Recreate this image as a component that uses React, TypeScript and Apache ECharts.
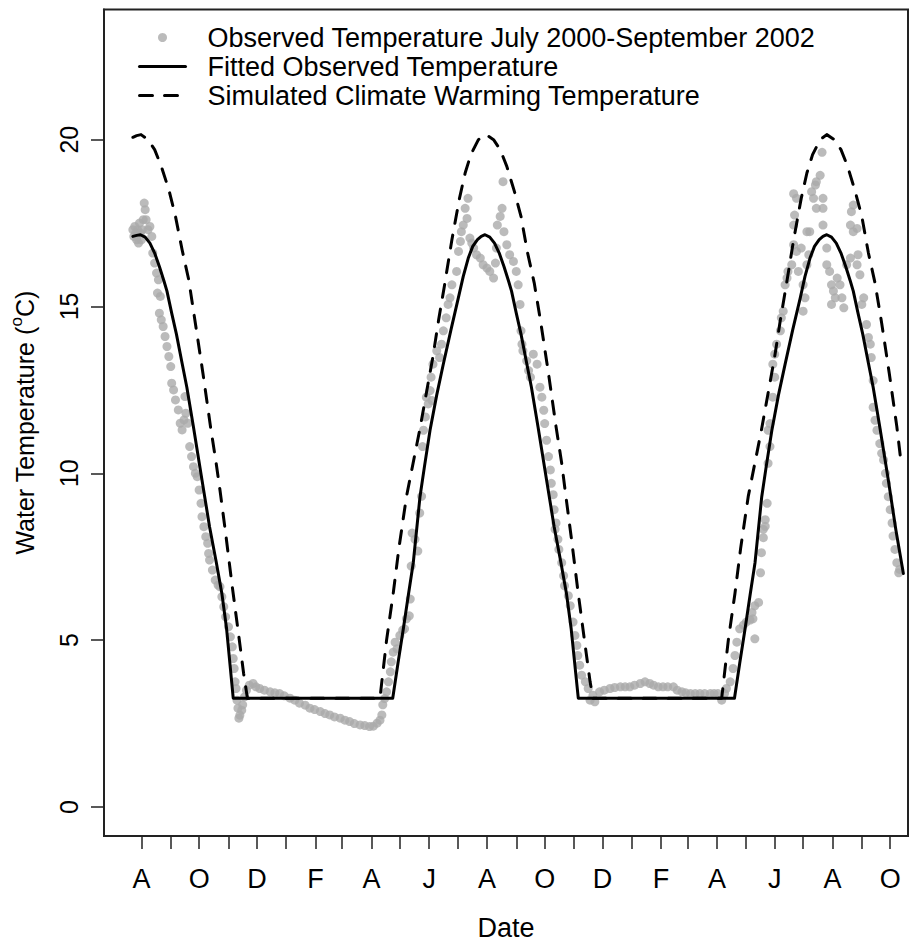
import React, { useEffect, useRef } from "react";
import * as echarts from "echarts";

// x values are days counted from 1 July 2000 (day 0)
const observedPoints: [number, number][] = [
  [22,17.3],[23,17.1],[24,17.4],[25,17.2],[26,17.0],[27,17.3],[28,16.9],[29,17.5],[30,17.2],[31,17.0],[32,17.3],[33,17.6],[34,18.1],[35,17.9],[36,17.6],[38,17.3],[40,17.4],[42,17.1],[43,16.6],[45,16.3],[47,16.0],[48,15.4],[49,15.8],[50,14.8],[51,15.3],[52,14.6],[54,14.4],[56,14.1],[58,13.8],[60,13.5],[62,13.2],[63,12.7],[65,12.5],[67,12.2],[70,11.9],[72,11.5],[74,11.3],[76,11.6],[77,12.3],[78,11.8],[80,11.5],[82,10.8],[84,10.5],[86,10.2],[88,10.0],[90,9.9],[92,9.5],[94,9.1],[95,8.7],[97,8.4],[99,8.1],[101,7.9],[102,7.6],[103,7.4],[106,7.1],[109,6.8],[112,6.65],[114,6.6],[116,6.3],[118,6.0],[120,5.7],[123,5.4],[125,5.1],[127,4.8],[128,4.45],[129,4.15],[130,3.75],[131,3.55],[132,3.2],[133,2.96],[134,2.66],[135,2.75],[137,2.9],[138,3.06],[140,3.3],[142,3.5],[145,3.65],[149,3.7],[152,3.6],[156,3.55],[161,3.5],[167,3.45],[172,3.42],[177,3.4],[182,3.33],[188,3.26],[193,3.2],[198,3.11],[204,3.05],[209,2.96],[214,2.92],[220,2.86],[225,2.8],[230,2.76],[235,2.7],[241,2.66],[246,2.6],[251,2.56],[256,2.5],[262,2.46],[267,2.44],[272,2.41],[276,2.42],[280,2.51],[283,2.6],[285,2.76],[286,3.06],[288,3.25],[290,3.45],[292,3.75],[294,4.05],[295,4.35],[297,4.64],[299,4.94],[301,4.74],[304,5.14],[307,5.3],[309,5.34],[311,5.64],[314,5.73],[315,6.23],[316,7.22],[317,8.21],[320,8.02],[323,7.67],[325,8.81],[327,9.31],[328,10.8],[329,11.29],[331,11.69],[332,12.28],[334,12.08],[336,12.48],[337,12.88],[338,12.18],[339,13.27],[343,13.67],[346,13.47],[348,13.87],[350,14.27],[353,14.66],[355,15.06],[357,15.26],[359,15.65],[364,16.05],[366,16.65],[368,16.95],[369,17.24],[371,17.44],[373,17.94],[375,17.64],[376,18.24],[378,17.05],[380,16.9],[382,16.75],[385,16.55],[389,16.45],[392,16.25],[396,16.15],[399,16.05],[403,15.85],[405,16.3],[406,16.75],[407,17.44],[410,17.7],[412,17.94],[413,18.74],[414,17.24],[417,16.85],[420,16.55],[424,16.35],[427,16.05],[429,15.65],[431,15.06],[432,14.27],[433,13.87],[434,13.67],[438,13.37],[440,13.08],[442,12.88],[445,13.57],[449,13.27],[452,12.58],[454,12.28],[456,11.89],[457,11.49],[459,10.99],[461,10.5],[463,10.1],[464,9.7],[466,9.36],[467,8.91],[468,8.32],[469,8.51],[471,8.02],[472,7.72],[475,7.32],[477,6.93],[478,6.63],[482,6.33],[484,6.03],[487,5.54],[489,5.14],[491,4.84],[492,4.54],[494,4.25],[496,3.95],[500,3.75],[503,3.55],[505,3.2],[508,3.35],[510,3.15],[515,3.45],[520,3.5],[526,3.55],[531,3.58],[537,3.6],[542,3.6],[547,3.6],[552,3.65],[558,3.7],[563,3.75],[568,3.7],[572,3.65],[577,3.6],[582,3.6],[587,3.6],[593,3.6],[597,3.5],[602,3.45],[606,3.42],[611,3.4],[616,3.4],[621,3.4],[626,3.4],[632,3.4],[636,3.4],[640,3.4],[644,3.2],[647,3.4],[649,3.55],[653,3.75],[656,4.15],[658,4.54],[660,4.94],[663,5.34],[667,5.45],[670,5.54],[674,5.6],[677,5.64],[676,5.83],[679,6.03],[679,5.04],[683,6.13],[685,7.02],[686,7.62],[688,8.07],[688,8.32],[690,8.41],[690,8.61],[692,9.1],[693,10.3],[693,11.29],[695,10.8],[695,11.49],[698,12.28],[698,13.27],[700,12.88],[700,13.57],[702,13.87],[706,14.27],[707,14.66],[709,14.86],[711,15.65],[713,15.85],[714,16.05],[718,16.25],[720,16.85],[720,17.44],[720,18.38],[721,17.74],[723,16.65],[723,18.24],[725,16.05],[728,16.75],[730,15.65],[730,14.86],[732,15.26],[734,16.25],[734,17.24],[736,16.55],[737,17.24],[739,18.44],[741,18.24],[743,18.64],[744,18.74],[744,17.94],[748,18.93],[750,19.62],[751,18.24],[751,17.94],[751,17.44],[755,16.75],[755,16.25],[758,16.05],[760,15.65],[760,15.06],[762,15.46],[764,15.26],[766,15.85],[769,15.65],[771,15.26],[773,14.96],[776,16.25],[780,16.45],[780,17.44],[781,17.84],[783,18.04],[783,17.24],[787,17.34],[787,16.25],[788,16.55],[790,15.95],[792,15.06],[794,15.26],[797,14.46],[799,14.07],[801,13.87],[802,13.47],[804,12.78],[804,11.98],[806,11.59],[808,11.29],[811,10.89],[813,10.6],[815,10.4],[817,10.0],[818,9.7],[820,9.3],[822,8.91],[824,8.51],[825,8.12],[827,7.72],[829,7.32],[831,7.02],[832,7.12]
];

const fittedPoints: [number, number][] = [
  [22,17.1],[26,17.13],[30,17.15],[35,17.08],[40,16.9],[45,16.6],[50,16.2],[55,15.75],[58,15.46],[63,14.8],[68,14.17],[74,13.3],[79,12.58],[86,11.39],[95,9.8],[103,8.4],[110,7.35],[116,6.4],[121,5.34],[128,3.26],
  [296.5,3.26],[302,4.3],[307.7,5.34],[313,6.35],[318.2,7.32],[325.3,9.3],[330,10.2],[335.9,11.29],[343,12.35],[349.9,13.27],[358,14.3],[365.8,15.26],[371,15.9],[376.3,16.45],[381,16.8],[386,17.0],[390,17.1],[394,17.15],[399,17.08],[404,16.9],[409,16.6],[414,16.2],[419,15.75],[422,15.46],[427,14.8],[432,14.17],[438,13.3],[443,12.58],[450,11.39],[459,9.8],[467,8.4],[474,7.35],[480,6.4],[485,5.34],[492.5,3.26],
  [657.5,3.26],[663,4.3],[668.7,5.34],[674,6.35],[679.2,7.32],[686.3,9.3],[691,10.2],[697,11.29],[704,12.35],[711,13.27],[719,14.3],[727,15.26],[732,15.9],[737.3,16.45],[742,16.8],[747,17.0],[751,17.1],[755,17.15],[760,17.08],[765,16.9],[770,16.6],[775,16.2],[780,15.75],[783,15.46],[788,14.8],[793,14.17],[799,13.3],[804,12.58],[811,11.39],[820,9.8],[828,8.3],[835.9,7.0]
];

const simulatedPoints: [number, number][] = [
  [22,20.07],[26,20.12],[30.6,20.15],[38,20.0],[45,19.7],[52,19.2],[60,18.5],[67,17.7],[74,16.7],[81,15.8],[88,14.5],[96,13.0],[104,11.4],[110,10.3],[114,9.5],[120,8.2],[127,6.6],[134,5.1],[139,4.0],[143,3.26],
  [283,3.26],[290,5.0],[297,6.4],[303,7.75],[311,9.3],[318,10.3],[325,11.3],[332,12.4],[339,13.5],[345,14.6],[351,15.6],[359,17.0],[367,18.24],[373,19.0],[379,19.55],[387,20.0],[395,20.15],[403,20.0],[410,19.7],[417,19.2],[425,18.45],[432,17.7],[439,16.6],[446,15.7],[453,14.5],[461,13.0],[469,11.4],[475,10.3],[479,9.4],[485,8.1],[492,6.5],[499,5.0],[505,3.75],[508,3.26],
  [644,3.26],[651,5.0],[658,6.4],[664,7.75],[672,9.3],[679,10.3],[686,11.3],[693,12.4],[700,13.5],[706,14.6],[712,15.6],[720,17.0],[728,18.24],[734,19.0],[740,19.55],[748,20.0],[755,20.15],[763,20.0],[770,19.7],[777,19.2],[785,18.45],[792,17.7],[799,16.6],[806,15.7],[813,14.5],[821,13.0],[829,11.4],[834,10.2]
];

// monthly ticks from August 2000 to October 2002; every other month labelled
const monthLetters = ["A","S","O","N","D","J","F","M","A","M","J","J","A","S","O","N","D","J","F","M","A","M","J","J","A","S","O"];
const yTicks = [0, 5, 10, 15, 20];
const seriesNames = [
  "Observed Temperature July 2000-September 2002",
  "Fitted Observed Temperature",
  "Simulated Climate Warming Temperature",
];

const FONT = "'Liberation Sans', Arial, Helvetica, sans-serif";
const DASH = [13, 12];

export default function App() {
  const ref = useRef<HTMLDivElement>(null);

  useEffect(() => {
    if (!ref.current) return;
    const chart = echarts.init(ref.current, null, { renderer: "svg" });

    const origin = Date.UTC(2000, 6, 1);
    const monthDays = monthLetters.map(
      (_, i) => Math.round((Date.UTC(2000, 7 + i, 1) - origin) / 86400000)
    );
    const labelDays = monthDays.filter((_, i) => i % 2 === 0);
    const letterOf: Record<number, string> = {};
    monthDays.forEach((d, i) => (letterOf[d] = monthLetters[i]));

    chart.setOption({
      animation: false,
      backgroundColor: "#ffffff",
      grid: {
        left: 104,
        right: 12,
        top: 9.5,
        bottom: 104,
        show: true,
        borderColor: "#222",
        borderWidth: 2,
        containLabel: false,
      },
      legend: {
        left: 138,
        top: 23,
        orient: "vertical",
        padding: 0,
        itemGap: 0,
        itemWidth: 46,
        itemHeight: 9,
        selectedMode: false,
        data: [
          { name: seriesNames[0], icon: "circle", itemStyle: { color: "#aaaaaa" } },
          {
            name: seriesNames[1],
            itemStyle: { color: "transparent", borderWidth: 0, opacity: 0 },
            lineStyle: { color: "#000", width: 3, type: "solid", opacity: 1 },
          },
          {
            name: seriesNames[2],
            itemStyle: { color: "transparent", borderWidth: 0, opacity: 0 },
            lineStyle: { color: "#000", width: 3, type: DASH, opacity: 1 },
          },
        ],
        textStyle: {
          fontSize: 27,
          fontFamily: FONT,
          color: "#000",
          lineHeight: 29,
          padding: [0, 0, 0, 17],
        },
      },
      xAxis: {
        type: "value",
        min: -8.5,
        max: 840.8,
        name: "Date",
        nameLocation: "middle",
        nameGap: 78,
        nameTextStyle: { fontSize: 27, fontFamily: FONT, color: "#000" },
        axisLine: { show: true, onZero: false, lineStyle: { color: "#222", width: 2 } },
        axisTick: {
          show: true,
          length: 13,
          customValues: monthDays,
          lineStyle: { color: "#222", width: 1.5 },
        },
        axisLabel: {
          customValues: labelDays,
          formatter: (v: number) => letterOf[Math.round(v)] ?? "",
          margin: 29,
          fontSize: 27,
          fontFamily: FONT,
          color: "#000",
        },
        splitLine: { show: false },
      },
      yAxis: {
        type: "value",
        min: -0.87,
        max: 23.9,
        name: "{a|Water Temperature (}{b|o}{a|C)}",
        nameLocation: "middle",
        nameGap: 62,
        nameTextStyle: {
          rich: {
            a: { fontSize: 25, fontFamily: FONT, color: "#000", lineHeight: 34 },
            b: { fontSize: 17, fontFamily: FONT, color: "#000", verticalAlign: "top", lineHeight: 17 },
          },
        },
        axisLine: { show: true, onZero: false, lineStyle: { color: "#222", width: 2 } },
        axisTick: {
          show: true,
          length: 13,
          customValues: yTicks,
          lineStyle: { color: "#222", width: 1.5 },
        },
        axisLabel: {
          customValues: yTicks,
          rotate: 90,
          margin: 23,
          fontSize: 25,
          fontFamily: FONT,
          color: "#000",
        },
        splitLine: { show: false },
      },
      series: [
        {
          name: seriesNames[0],
          type: "scatter",
          data: observedPoints,
          symbol: "circle",
          symbolSize: 9,
          itemStyle: { color: "#aaaaaa" },
          z: 1,
        },
        {
          name: seriesNames[1],
          type: "line",
          data: fittedPoints,
          symbol: "none",
          showSymbol: false,
          lineStyle: { color: "#000", width: 3, type: "solid", cap: "round", join: "round" },
          itemStyle: { color: "#000" },
          z: 3,
        },
        {
          name: seriesNames[2],
          type: "line",
          data: simulatedPoints,
          symbol: "none",
          showSymbol: false,
          lineStyle: { color: "#000", width: 3, type: DASH, cap: "round", join: "round" },
          itemStyle: { color: "#000" },
          z: 3,
        },
      ],
    });

    return () => chart.dispose();
  }, []);

  return (
    <div
      ref={ref}
      style={{ position: "absolute", left: 0, top: 0, width: 920, height: 946, background: "#fff" }}
    />
  );
}
